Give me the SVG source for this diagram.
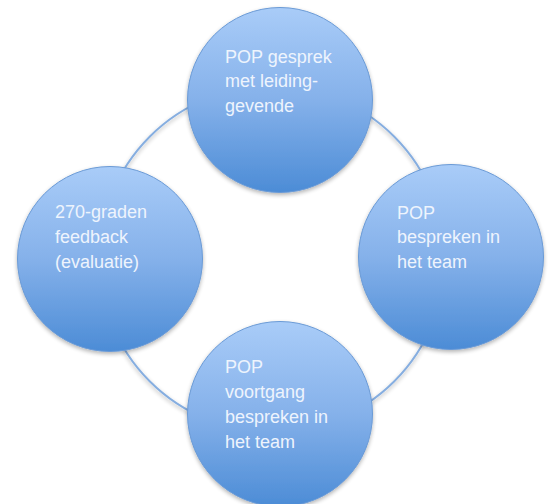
<svg xmlns="http://www.w3.org/2000/svg" width="552" height="504" viewBox="0 0 552 504">
  <defs>
    <linearGradient id="fill" x1="0" y1="0" x2="0" y2="1">
      <stop offset="0" stop-color="#a9ccf8"/>
      <stop offset="0.5" stop-color="#85b1ea"/>
      <stop offset="1" stop-color="#4c8cd6"/>
    </linearGradient>
    <filter id="sh" x="-20%" y="-20%" width="140%" height="150%">
      <feGaussianBlur in="SourceAlpha" stdDeviation="2"/>
      <feOffset dx="0" dy="2" result="b"/>
      <feComponentTransfer><feFuncA type="linear" slope="0.3"/></feComponentTransfer>
      <feMerge><feMergeNode/><feMergeNode in="SourceGraphic"/></feMerge>
    </filter>
  </defs>
  <style>
    .node { fill: url(#fill); stroke: #6a9ad6; stroke-width: 1; filter: url(#sh); }
    .ring { fill: none; stroke: #86aee0; stroke-width: 2; }
    .lbl { font-family: "Liberation Sans", Arial, sans-serif; font-size: 18px; fill: #eef4fd; }
  </style>
  <rect width="552" height="504" fill="#ffffff"/>
  <g id="connectors">
    <circle class="ring" cx="272" cy="259" r="173" filter="url(#sh)"/>
  </g>
  <g id="node-top">
    <circle class="node" cx="280" cy="100" r="92.5"/>
    <text class="lbl" x="225" y="63">POP gesprek</text>
    <text class="lbl" x="225" y="87">met leiding-</text>
    <text class="lbl" x="225" y="112">gevende</text>
  </g>
  <g id="node-right">
    <circle class="node" cx="451" cy="257" r="92.5"/>
    <text class="lbl" x="397" y="219">POP</text>
    <text class="lbl" x="397" y="243">bespreken in</text>
    <text class="lbl" x="397" y="268">het team</text>
  </g>
  <g id="node-bottom">
    <circle class="node" cx="280" cy="414" r="92.5"/>
    <text class="lbl" x="225" y="373">POP</text>
    <text class="lbl" x="225" y="398">voortgang</text>
    <text class="lbl" x="225" y="423">bespreken in</text>
    <text class="lbl" x="225" y="448">het team</text>
  </g>
  <g id="node-left">
    <circle class="node" cx="110" cy="259" r="92.5"/>
    <text class="lbl" x="55" y="218">270-graden</text>
    <text class="lbl" x="55" y="243">feedback</text>
    <text class="lbl" x="55" y="268">(evaluatie)</text>
  </g>
</svg>
